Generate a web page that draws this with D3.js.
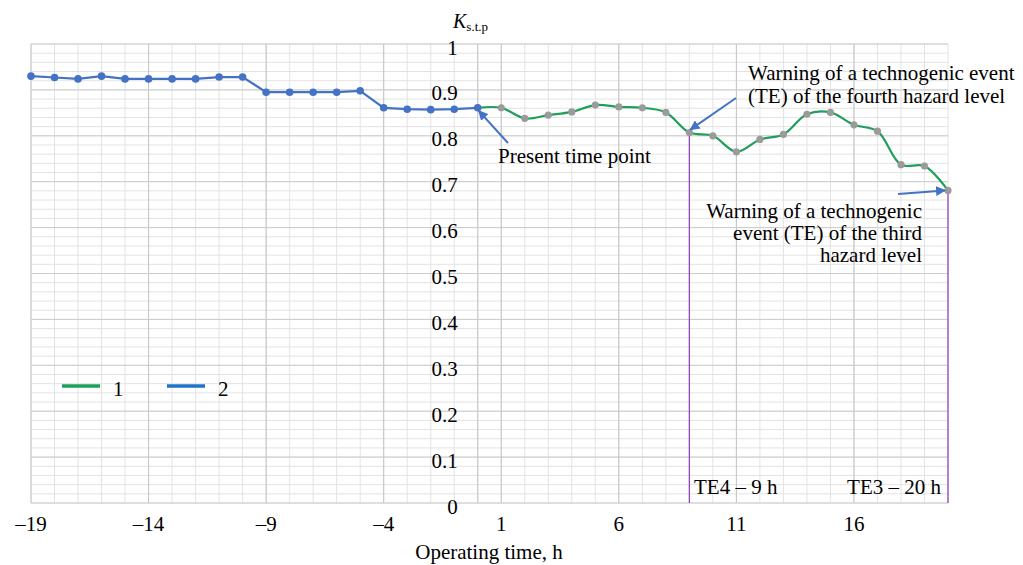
<!DOCTYPE html>
<html>
<head>
<meta charset="utf-8">
<script src="https://cdn.jsdelivr.net/npm/d3@7"></script>
<style>
  body { margin: 0; background: #fff; }
  text { font-family: "Liberation Serif", "Times New Roman", serif; fill: #000; }
</style>
</head>
<body>
<div id="chart"></div>
<script>
// past observations (series 2) and forecast (series 1)
const pastHours = [-19, -18, -17, -16, -15, -14, -13, -12, -11, -10, -9, -8, -7, -6, -5, -4, -3, -2, -1, 0];
const pastK = [0.930, 0.927, 0.924, 0.930, 0.924, 0.924, 0.924, 0.924, 0.928, 0.928,
               0.895, 0.895, 0.895, 0.895, 0.898, 0.861, 0.858, 0.857, 0.858, 0.861];
const forecastHours = [0, 1, 2, 3, 4, 5, 6, 7, 8, 9, 10, 11, 12, 13, 14, 15, 16, 17, 18, 19, 20];
const forecastK = [0.861, 0.861, 0.838, 0.845, 0.852, 0.867, 0.863, 0.861, 0.851, 0.807, 0.800,
                   0.765, 0.792, 0.803, 0.847, 0.851, 0.824, 0.810, 0.737, 0.734, 0.681];

const xTicks = [-19, -14, -9, -4, 1, 6, 11, 16];
const yTicks = [0, 0.1, 0.2, 0.3, 0.4, 0.5, 0.6, 0.7, 0.8, 0.9, 1];
const legendNames = ["1", "2"];

const W = 1023, H = 565;
const FS = 21;
const green = "#1f9e5c", blue = "#4472c4", purple = "#9147c0";

let svg = d3.select("#chart").append("svg")
    .attr("width", W).attr("height", H);

let x = d3.scaleLinear().domain([-19, 20]).range([31, 948]);
let y = d3.scaleLinear().domain([0, 1]).range([503, 44]);

// grid - minor lines first, then major
let minorX = d3.range(-19, 21, 1);
let minorY = d3.range(0, 1.001, 0.02);
let grid = svg.append("g");
grid.selectAll(".vmin").data(minorX).enter().append("line")
    .attr("x1", d => x(d)).attr("x2", d => x(d))
    .attr("y1", y(0)).attr("y2", y(1))
    .attr("stroke", "#e3e3e3").attr("stroke-width", 1);
grid.selectAll(".hmin").data(minorY).enter().append("line")
    .attr("x1", x(-19)).attr("x2", x(20))
    .attr("y1", d => y(d)).attr("y2", d => y(d))
    .attr("stroke", "#e3e3e3").attr("stroke-width", 1);
grid.selectAll(".vmaj").data(xTicks.concat([0])).enter().append("line")
    .attr("x1", d => x(d)).attr("x2", d => x(d))
    .attr("y1", y(0)).attr("y2", y(1))
    .attr("stroke", "#c4c4c4").attr("stroke-width", 1);
grid.selectAll(".hmaj").data(yTicks).enter().append("line")
    .attr("x1", x(-19)).attr("x2", x(20))
    .attr("y1", d => y(d)).attr("y2", d => y(d))
    .attr("stroke", "#cccccc").attr("stroke-width", 1);

// axis tick labels
svg.append("g").selectAll("text").data(xTicks).enter().append("text")
    .attr("x", d => x(d)).attr("y", 531)
    .attr("text-anchor", "middle").attr("font-size", FS)
    .text(d => d < 0 ? "\u2013" + Math.abs(d) : d);

svg.append("g").selectAll("text").data(yTicks).enter().append("text")
    .attr("x", x(0) - 20).attr("y", d => y(d) + 10.5)
    .attr("text-anchor", "end").attr("font-size", FS)
    .text(d => d3.format("~g")(d));

svg.append("text").attr("x", 489).attr("y", 559)
    .attr("text-anchor", "middle").attr("font-size", FS)
    .text("Operating time, h");

let ylab = svg.append("text").attr("x", 453).attr("y", 28).attr("font-size", 20);
ylab.append("tspan").attr("font-style", "italic").text("K");
ylab.append("tspan").attr("font-size", 13).attr("dy", 3).text("s.t.p");

// vertical event lines
let events = [{h: 9, k: forecastK[9]}, {h: 20, k: forecastK[20]}];
svg.append("g").selectAll("line").data(events).enter().append("line")
    .attr("x1", d => x(d.h)).attr("x2", d => x(d.h))
    .attr("y1", d => y(d.k)).attr("y2", y(0))
    .attr("stroke", purple).attr("stroke-width", 1.3);

// series lines
let lineF = d3.line().x((d, i) => x(forecastHours[i])).y(d => y(d))
    .curve(d3.curveCatmullRom.alpha(0.5));
svg.append("path").datum(forecastK)
    .attr("d", lineF).attr("fill", "none")
    .attr("stroke", green).attr("stroke-width", 2.2);

let lineP = d3.line().x((d, i) => x(pastHours[i])).y(d => y(d));
svg.append("path").datum(pastK)
    .attr("d", lineP).attr("fill", "none")
    .attr("stroke", blue).attr("stroke-width", 2.2);

svg.append("g").selectAll("circle").data(forecastK.slice(1)).enter().append("circle")
    .attr("cx", (d, i) => x(forecastHours[i + 1])).attr("cy", d => y(d))
    .attr("r", 3.6).attr("fill", "#9b9b9b");

svg.append("g").selectAll("circle").data(pastK).enter().append("circle")
    .attr("cx", (d, i) => x(pastHours[i])).attr("cy", d => y(d))
    .attr("r", 3.8).attr("fill", blue);

// arrows
svg.append("defs").append("marker")
    .attr("id", "head").attr("viewBox", "0 0 10 10")
    .attr("refX", 9).attr("refY", 5)
    .attr("markerWidth", 5).attr("markerHeight", 5)
    .attr("orient", "auto")
    .append("path").attr("d", "M0,0 L10,5 L0,10 z").attr("fill", blue);

let arrows = [
    {x1: 508, y1: 143, h: 0, k: pastK[19], dx: 1, dy: 3},
    {x1: 736, y1: 98, h: 9, k: forecastK[9], dx: 1, dy: -3},
    {x1: 898, y1: 194, h: 20, k: forecastK[20], dx: -3, dy: 0}
];
svg.append("g").selectAll("line").data(arrows).enter().append("line")
    .attr("x1", d => d.x1).attr("y1", d => d.y1)
    .attr("x2", d => x(d.h) + d.dx).attr("y2", d => y(d.k) + d.dy)
    .attr("stroke", blue).attr("stroke-width", 2)
    .attr("marker-end", "url(#head)");

// annotation texts
svg.append("text").attr("x", 498).attr("y", 163).attr("font-size", FS)
    .text("Present time point");

let t4 = svg.append("text").attr("font-size", FS);
t4.append("tspan").attr("x", 748).attr("y", 80).text("Warning of a technogenic event");
t4.append("tspan").attr("x", 748).attr("y", 103).text("(TE) of the fourth hazard level");

let t3 = svg.append("text").attr("text-anchor", "end").attr("font-size", FS);
t3.append("tspan").attr("x", 922).attr("y", 218).text("Warning of a technogenic");
t3.append("tspan").attr("x", 922).attr("y", 240).text("event (TE) of the third");
t3.append("tspan").attr("x", 922).attr("y", 262).text("hazard level");

svg.append("text").attr("x", 694).attr("y", 494).attr("font-size", FS).text("TE4 \u2013 9 h");
svg.append("text").attr("x", 941).attr("y", 494).attr("text-anchor", "end")
    .attr("font-size", FS).text("TE3 \u2013 20 h");

// legend
let legend = svg.append("g").selectAll("g").data(legendNames).enter().append("g")
    .attr("transform", (d, i) => "translate(" + (62 + i * 105) + ",386)");
legend.append("line").attr("x1", 0).attr("x2", 38)
    .attr("stroke", (d, i) => i === 0 ? green : "#1f74c8").attr("stroke-width", 3.5);
legend.append("text").attr("x", 51).attr("y", 10).attr("font-size", FS).text(d => d);
</script>
</body>
</html>
